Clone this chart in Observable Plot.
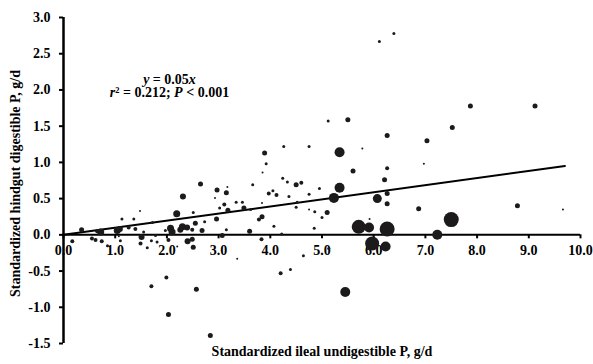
<!DOCTYPE html>
<html><head><meta charset="utf-8">
<script src="https://cdn.jsdelivr.net/npm/d3@7"></script>
<script src="https://cdn.jsdelivr.net/npm/@observablehq/plot@0.6"></script>
<style>body{margin:0;background:#fff}</style>
</head><body><div id="chart"></div>
<script>
// Standardized ileal undigestible P (g/d)
const ptX = [0.17,0.35,0.55,0.65,0.72,0.62,0.74,0.85,1.04,1.09,1.13,1.36,1.26,1.39,1.48,1.72,1.10,1.51,1.55,1.49,1.62,1.70,1.81,1.07,1.78,
  1.70,1.99,2.57,2.03,2.84,4.20,4.39,4.64,5.45,3.36,
  2.65,2.97,3.15,2.31,2.93,3.11,3.17,3.34,3.46,3.02,3.18,3.49,2.51,2.19,2.73,2.55,2.96,2.07,2.30,2.39,2.10,2.26,2.68,2.49,3.15,3.07,3.60,2.40,2.49,2.51,2.03,1.97,2.20,
  3.89,4.26,4.75,3.92,3.85,3.66,4.24,4.33,4.50,4.60,3.97,4.05,4.12,4.36,4.75,4.95,3.84,4.52,4.50,4.75,4.86,5.10,5.00,3.84,3.78,3.62,4.07,4.22,4.85,3.83,5.13,
  5.23,5.34,5.34,5.12,5.50,6.11,6.39,7.87,9.12,7.52,6.26,7.03,5.78,6.97,5.60,6.26,6.21,6.26,6.07,6.26,6.87,5.92,5.71,5.91,6.26,7.50,7.23,5.97,6.23,8.78,9.66];
// Standardized hindgut digestible P (g/d)
const ptY = [-0.09,0.07,-0.05,0.05,0.04,-0.07,-0.09,-0.15,0.06,0.08,0.22,0.22,0.10,0.08,0.33,0.17,-0.08,-0.03,0.04,-0.12,-0.18,-0.08,-0.10,-0.02,-0.01,
  -0.71,-0.59,-0.75,-1.10,-1.39,-0.53,-0.48,-0.29,-0.79,-0.33,
  0.70,0.62,0.58,0.53,0.51,0.42,0.66,0.45,0.45,0.37,0.34,0.37,0.31,0.29,0.18,0.16,0.22,0.09,0.11,0.10,0.04,0.07,0.06,0.07,0.07,-0.01,0.05,-0.09,-0.06,-0.17,-0.07,0.06,-0.16,
  1.13,1.22,1.22,0.98,0.86,0.69,0.78,0.73,0.69,0.72,0.57,0.61,0.55,0.53,0.56,0.64,0.44,0.45,0.38,0.35,0.32,0.31,0.24,0.25,0.21,0.35,0.12,0.01,0.09,-0.06,-0.19,
  0.51,1.14,0.65,1.57,1.59,2.67,2.78,1.78,1.78,1.48,1.37,1.30,1.19,0.98,0.88,0.92,0.76,0.57,0.50,0.43,0.36,0.22,0.11,0.10,0.08,0.21,0.00,-0.12,-0.16,0.40,0.35];
// relative bubble size of each observation
const ptSize = [2,2.5,2,2,3.5,2,2,1.5,3.5,3,1.5,1.5,2,2,1,1.5,1.5,3,1.5,2,1.5,1.5,1.5,1,1.5,
  2,2,2.5,2.5,2.5,2,1.5,1.5,5,1,
  2.5,2.5,2.5,3,1,2,1,1.5,1.5,1.5,2.5,2.5,1.5,3.5,1.5,2.5,2.5,3.5,3.5,3,3.5,3,2.5,2,1.5,2.5,2.5,3,2.5,2.5,2,1.5,1,
  2.5,1.5,1.5,1.5,1,1.5,1.5,1.5,2.5,2,2,1.5,2,1.5,1.5,1.5,1,1.5,1.5,1,1.5,2.5,1.5,2.5,2,1.5,1.5,1.5,1.5,2,1.5,
  5,5,5,1.5,2.5,1.5,1.5,2.5,2.5,2.5,2.5,2.5,1,1,2.5,2,2.5,2.5,4.5,2.5,2.5,1,7,5,7.5,7.5,5,7,5,2.5,1];

const fitX = [0, 9.7];
const fitY = [0, 0.95];

const xTicks = [0,1,2,3,4,5,6,7,8,9,10];
const yTicks = [-1.5,-1,-0.5,0,0.5,1,1.5,2,2.5,3];

const xTitle = "Standardized ileal undigestible P, g/d";
const yTitle = "Standardized hindgut digestible P, g/d";
const annLines = ["y = 0.05x", "r² = 0.212; P < 0.001"];
const annX = [2.05, 2.05];
const annY = [2.145, 1.965];

const points = ptX.map((x, i) => ({x, y: ptY[i], s: ptSize[i]}));
const fit = fitX.map((x, i) => ({x, y: fitY[i]}));
const ann = annLines.map((t, i) => ({t, x: annX[i], y: annY[i]}));

const chart = Plot.plot({
  width: 593, height: 364,
  marginLeft: 63, marginRight: 13, marginTop: 17, marginBottom: 21,
  style: {fontFamily: "'Liberation Serif', 'Times New Roman', serif", fontSize: "14px", fontWeight: "bold", color: "#000", background: "#fff"},
  x: {domain: [0, 10]},
  y: {domain: [-1.5, 3]},
  r: {type: "linear", domain: [0, 8], range: [0, 8]},
  marks: [
    Plot.ruleY([0], {stroke: "#000", strokeWidth: 2}),
    Plot.ruleX([0], {stroke: "#000", strokeWidth: 2.5}),
    Plot.axisY(yTicks, {tickSize: 4, tickPadding: 9, tickFormat: d => d.toFixed(1), label: null, strokeWidth: 2, fontSize: 14}),
    Plot.axisX(xTicks, {y: 0, tickSize: 4, tickPadding: 6, tickFormat: d => d.toFixed(1), label: null, strokeWidth: 2, fontSize: 14}),
    Plot.line(fit, {x: "x", y: "y", stroke: "#000", strokeWidth: 2}),
    Plot.dot(points, {x: "x", y: "y", r: "s", fill: "#1c1a1b", stroke: null}),
    Plot.text([xTitle], {frameAnchor: "bottom", dy: 12, fontSize: 14, fill: "#000"}),
    Plot.text([yTitle], {frameAnchor: "left", textAnchor: "middle", rotate: -90, dx: -48, dy: 3, fontSize: 14, fill: "#000"}),
    Plot.text(ann, {x: "x", y: "y", text: "t", fontSize: 14, fill: "#000"})
  ]
});
document.getElementById("chart").appendChild(chart);

// rich formatting (italic variables) for the annotation
const rich = {
  "y = 0.05x": [["y", true], [" = 0.05", false], ["x", true]],
  "r² = 0.212; P < 0.001": [["r", true], ["² = 0.212; ", false], ["P", true], [" < 0.001", false]]
};
d3.select(chart).selectAll("text").each(function() {
  const parts = rich[this.textContent];
  if (!parts) return;
  this.textContent = "";
  for (const [t, it] of parts) {
    const s = document.createElementNS("http://www.w3.org/2000/svg", "tspan");
    s.textContent = t;
    if (it) s.setAttribute("font-style", "italic");
    this.appendChild(s);
  }
});
</script>
</body></html>
